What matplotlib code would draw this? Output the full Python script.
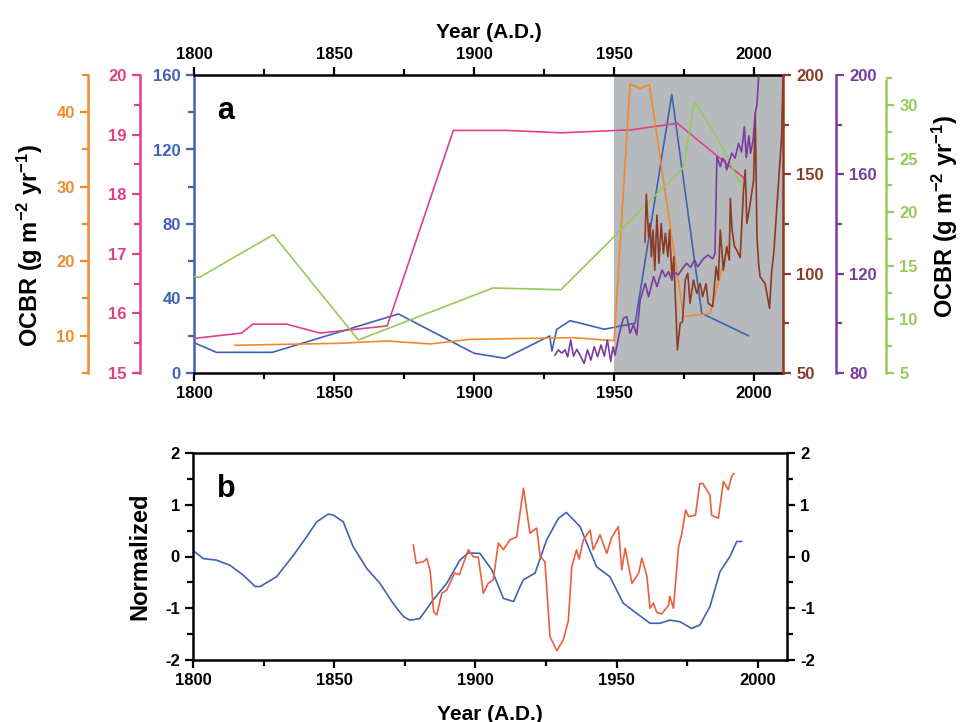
import numpy as np
import matplotlib.pyplot as plt
from matplotlib.ticker import MultipleLocator

plt.rcParams['font.family'] = ['Liberation Sans', 'DejaVu Sans']
plt.rcParams['font.weight'] = 'bold'
plt.rcParams['axes.unicode_minus'] = False
plt.rcParams['mathtext.fontset'] = 'custom'
plt.rcParams['mathtext.rm'] = 'Liberation Sans:bold'
plt.rcParams['mathtext.default'] = 'rm'

# ---- panel a data ----
blue_yr = [1800, 1808, 1828, 1873, 1900, 1911, 1927, 1927.8, 1929.5, 1934.3, 1946.5, 1957.5, 1970.6, 1981.3, 1998]
blue_v = [16.3, 11.1, 11.1, 31.7, 10.6, 7.9, 19.9, 11.8, 23.4, 28.1, 23.5, 26.7, 149.6, 32, 20]

pink_yr = [1800, 1817, 1821, 1833, 1845, 1857, 1869, 1892.6, 1912, 1931, 1956, 1972.6, 1996.4]
pink_v = [15.58, 15.67, 15.82, 15.82, 15.67, 15.73, 15.79, 19.07, 19.07, 19.03, 19.08, 19.19, 18.27]

green_yr = [1800, 1802, 1828.3, 1858.7, 1906.7, 1931, 1974.8, 1978.7, 1986.7, 1996.2]
green_v = [13.98, 13.93, 17.9, 8.08, 12.93, 12.77, 24.2, 30.3, 27.0, 22.1]

orange_yr = [1814.6, 1852, 1868.8, 1884.3, 1898.6, 1935.5, 1950, 1955.7, 1959.3, 1962.6, 1974.8, 1984.3, 1990.8]
orange_v = [8.72, 8.99, 9.3, 8.9, 9.52, 9.74, 9.34, 43.8, 43.2, 43.7, 12.56, 13.0, 22.2]

purple_yr = [1928.9, 1930.1, 1931.3, 1932.5, 1933.4, 1934.5, 1935.5, 1936.7, 1938.1, 1939.3,
             1940.5, 1941.7, 1942.9, 1944.1, 1945.3, 1946.5, 1947.6, 1948.8, 1949.6, 1950.3,
             1951.9, 1953.3, 1954.5, 1955.7, 1956.9, 1958.1, 1959.3, 1961.1, 1962.3, 1964.1,
             1965.3, 1967.1, 1968.3, 1969.4, 1970.6, 1971.2, 1972.9, 1974.2, 1975.9, 1977.3,
             1978.7, 1979.9, 1981.7, 1983.5, 1985.2, 1986.0, 1986.7, 1987.9, 1988.7, 1989.6,
             1990.2, 1992.0, 1993.2, 1994.4, 1995.5, 1996.5, 1997.2, 1998.1, 1998.7, 1999.6,
             2000.4, 2001.0, 2001.6]
purple_v = [87.2, 89.3, 88.0, 89.3, 86.5, 93.3, 86.8, 89.5, 86.6, 83.9,
            89.3, 85.2, 90.6, 86.5, 91.3, 86.8, 93.3, 84.6, 90.5, 87.2,
            96.0, 102.0, 102.7, 96.0, 99.5, 95.3, 109.4, 116.1, 110.7, 118.8,
            114.8, 121.5, 118.8, 120.8, 117.5, 120.8, 119.5, 121.8, 124.2, 122.5,
            125.5, 122.8, 125.8, 127.5, 126.0, 128.0, 167.1, 163.1, 166.5, 165.5,
            161.8, 168.5, 166.5, 172.5, 169.0, 179.2, 166.8, 175.5, 168.5, 173.5,
            184.6, 188.0, 199.3]

brown_yr = [1961, 1961.5, 1962.3, 1962.8, 1963.3, 1963.9, 1964.5, 1965.3, 1966, 1966.8,
            1967.6, 1968.3, 1969.2, 1969.8, 1970.7, 1971.3, 1972.6, 1973.6, 1974.4, 1975.4,
            1976.3, 1977.1, 1978.3, 1979.5, 1980.7, 1981.6, 1982.8, 1983.6, 1985.2, 1986.4,
            1987.2, 1987.9, 1989, 1990.2, 1991.1, 1991.5, 1992.1, 1993, 1993.8, 1995,
            1996.2, 1996.8, 1997.4, 1998.6, 1999.8, 2000.4, 2001, 2001.6, 2002.1, 2003.9,
            2005.5, 2006.3, 2007, 2008.2, 2009.8, 2010.3]
brown_v = [116, 140, 118.6, 125.3, 108.5, 122, 101.8, 129.5, 105.2, 125.3,
           110.2, 120.3, 108.5, 122, 96.8, 108.5, 61.6, 75, 75.6, 96.8,
           100.2, 85.1, 96.8, 90.1, 95.1, 88.4, 95, 85.1, 83.4, 103.5,
           96.8, 122, 101.8, 113.6, 106.9, 137.9, 122, 113.6, 111.9, 108,
           142.1, 152.2, 125.3, 135.4, 147.1, 180.7, 118.6, 105, 98.5, 95,
           82.6, 101.8, 110.2, 135.4, 169, 199]

# ---- panel b data ----
nb_yr = [1800, 1803.6, 1808.3, 1813.1, 1817.8, 1822, 1823.8, 1829.6, 1835.5, 1840.2,
         1843.8, 1847.9, 1849.7, 1853.2, 1856.7, 1861.5, 1866.2, 1870.9, 1874.5, 1876.8,
         1880.3, 1885, 1889.8, 1894.5, 1897.5, 1901.6, 1905.8, 1909.9, 1913.5, 1915.8,
         1917, 1921.1, 1925.2, 1929.4, 1932.2, 1937, 1942.9, 1947.6, 1952.3, 1957.1,
         1961.8, 1965.3, 1968.8, 1972.4, 1976.5, 1979.5, 1983, 1986.6, 1990.1, 1992.5, 1994.2]
nb_v = [0.12, -0.04, -0.07, -0.17, -0.36, -0.58, -0.58, -0.39, 0.02, 0.38,
        0.67, 0.82, 0.80, 0.67, 0.19, -0.23, -0.52, -0.91, -1.16, -1.23,
        -1.20, -0.84, -0.52, -0.07, 0.07, 0.06, -0.26, -0.81, -0.87, -0.58,
        -0.45, -0.32, 0.32, 0.74, 0.85, 0.58, -0.2, -0.39, -0.9, -1.1,
        -1.29, -1.29, -1.23, -1.26, -1.39, -1.32, -0.97, -0.29, 0.0, 0.29, 0.29]

nr_yr = [1878, 1879, 1881.6, 1882.8, 1884, 1885.2, 1886.3, 1888.1, 1889.8, 1892.6,
         1894.3, 1897.5, 1899.3, 1901, 1902.8, 1904.5, 1906.3, 1908.1, 1909.9, 1912.2,
         1914.6, 1917, 1919.3, 1921.7, 1922.9, 1924.6, 1926.4, 1928.8, 1931.1, 1932.9,
         1934.1, 1935.8, 1936.7, 1938.2, 1940.6, 1941.7, 1944.1, 1946.5, 1948.2, 1950.6,
         1951.8, 1953, 1955.4, 1957.8, 1958.9, 1960.7, 1961.8, 1963, 1964.2, 1965.9,
         1968.3, 1968.8, 1970.1, 1971.9, 1973.1, 1974.4, 1975.5, 1977.9, 1979.4, 1980.5,
         1983, 1983.6, 1986, 1987.8, 1989.5, 1990.7, 1991.5]
nr_v = [0.22, -0.13, -0.1, -0.04, -0.29, -1.07, -1.13, -0.71, -0.65, -0.32,
        -0.35, 0.13, -0.01, -0.01, -0.71, -0.52, -0.45, 0.26, 0.13, 0.32,
        0.38, 1.32, 0.45, 0.55, 0.0, -0.1, -1.55, -1.82, -1.61, -1.24,
        -0.2, 0.13, -0.05, 0.32, 0.51, 0.13, 0.42, 0.06, 0.36, 0.58,
        -0.26, 0.16, -0.52, -0.32, -0.03, -0.38, -1.0, -0.9, -1.08, -1.11,
        -0.95, -0.77, -1.0, 0.19, 0.45, 0.9, 0.77, 0.8, 1.41, 1.41,
        1.19, 0.8, 0.74, 1.45, 1.29, 1.55, 1.6]

blue = '#3f62b4'
pink = '#e0408a'
orange = '#f08a2e'
brown = '#8c3a26'
purple = '#7a3d9e'
green = '#98c95a'
red = '#e8603e'
shade = '#b7babd'
W, H = 965, 722
XMAX = 2010.3


def side_axis(host, side, pos, color, lim, major, minor):
    a = host.twinx()
    for s in a.spines.values():
        s.set_visible(False)
    sp = a.spines[side]
    sp.set_visible(True)
    sp.set_position(('axes', pos))
    sp.set_color(color)
    sp.set_linewidth(1.8)
    a.yaxis.set_ticks_position(side)
    a.set_ylim(*lim)
    a.yaxis.set_major_locator(MultipleLocator(major))
    a.yaxis.set_minor_locator(MultipleLocator(minor))
    a.tick_params(axis='y', which='both', colors=color, direction='out', width=1.6, labelsize=12)
    a.tick_params(axis='y', which='major', length=6)
    a.tick_params(axis='y', which='minor', length=4)
    return a


fig = plt.figure(figsize=(W / 100, H / 100), dpi=100)

# ---------------- panel a ----------------
ax = fig.add_axes([194 / W, 1 - 373 / H, 589 / W, 298 / H])
ax.axvspan(1950, XMAX, color=shade, zorder=0, lw=0)
ax.plot(blue_yr, blue_v, color=blue, lw=1.2)
ax.set_xlim(1800, XMAX)
ax.set_ylim(0, 160)
ax.xaxis.set_major_locator(MultipleLocator(50))
ax.xaxis.set_minor_locator(MultipleLocator(25))
ax.yaxis.set_major_locator(MultipleLocator(40))
ax.yaxis.set_minor_locator(MultipleLocator(20))
for s in ['top', 'bottom']:
    ax.spines[s].set_linewidth(1.8)
ax.spines['left'].set_color(blue)
ax.spines['left'].set_linewidth(1.8)
ax.spines['right'].set_visible(False)
ax.tick_params(axis='x', which='both', top=True, labeltop=True, direction='out', width=1.6, labelsize=12)
ax.tick_params(axis='x', which='major', length=6)
ax.tick_params(axis='x', which='minor', length=4)
ax.tick_params(axis='y', which='both', colors=blue, direction='out', width=1.6, labelsize=12)
ax.tick_params(axis='y', which='major', length=6)
ax.tick_params(axis='y', which='minor', length=4)
ax.xaxis.set_label_position('top')
ax.set_xlabel('Year (A.D.)', fontsize=15, fontweight='bold', labelpad=6)
ax.text(0.04, 0.93, 'a', transform=ax.transAxes, fontsize=22, fontweight='bold', va='top')

ax_pink = side_axis(ax, 'left', (140 - 194) / 589, pink, (15, 20), 1, 0.5)
ax_pink.plot(pink_yr, pink_v, color=pink, lw=1.2)
ax_orange = side_axis(ax, 'left', (88 - 194) / 589, orange, (5, 45), 10, 5)
ax_orange.plot(orange_yr, orange_v, color=orange, lw=1.2)
ax_green = side_axis(ax, 'right', (886 - 194) / 589, green, (5, 32.8), 5, 2.5)
ax_green.spines['right'].set_bounds(5, 32.3)
ax_green.plot(green_yr, green_v, color=green, lw=1.2)
ax_brown = side_axis(ax, 'right', 1.0, brown, (50, 200), 50, 25)
ax_brown.plot(brown_yr, brown_v, color=brown, lw=1.2)
ax_purple = side_axis(ax, 'right', (836 - 194) / 589, purple, (80, 200), 40, 20)
ax_purple.plot(purple_yr, purple_v, color=purple, lw=1.2)

fig.text(30 / W, 1 - 245 / H, 'OCBR (g m$^{-2}$ yr$^{-1}$)', rotation=90, ha='center', va='center',
         fontsize=17, fontweight='bold')
fig.text(945 / W, 1 - 216 / H, 'OCBR (g m$^{-2}$ yr$^{-1}$)', rotation=90, ha='center', va='center',
         fontsize=17, fontweight='bold')

# ---------------- panel b ----------------
bx = fig.add_axes([193 / W, 1 - 660 / H, 594 / W, 207 / H])
bx.plot(nb_yr, nb_v, color=blue, lw=1.2)
bx.plot(nr_yr, nr_v, color=red, lw=1.2)
bx.set_xlim(1800, XMAX)
bx.set_ylim(-2, 2)
bx.xaxis.set_major_locator(MultipleLocator(50))
bx.xaxis.set_minor_locator(MultipleLocator(25))
bx.yaxis.set_major_locator(MultipleLocator(1))
bx.yaxis.set_minor_locator(MultipleLocator(0.5))
for s in bx.spines.values():
    s.set_linewidth(1.8)
bx.tick_params(which='both', direction='out', width=1.6, labelsize=12, right=True, labelright=True)
bx.tick_params(which='major', length=6)
bx.tick_params(which='minor', length=4)
bx.set_xlabel('Year (A.D.)', fontsize=15, fontweight='bold', labelpad=12)
bx.set_ylabel('Normalized', fontsize=17, fontweight='bold', labelpad=10)
bx.text(0.04, 0.9, 'b', transform=bx.transAxes, fontsize=22, fontweight='bold', va='top')

fig.savefig('out.png', dpi=100)
